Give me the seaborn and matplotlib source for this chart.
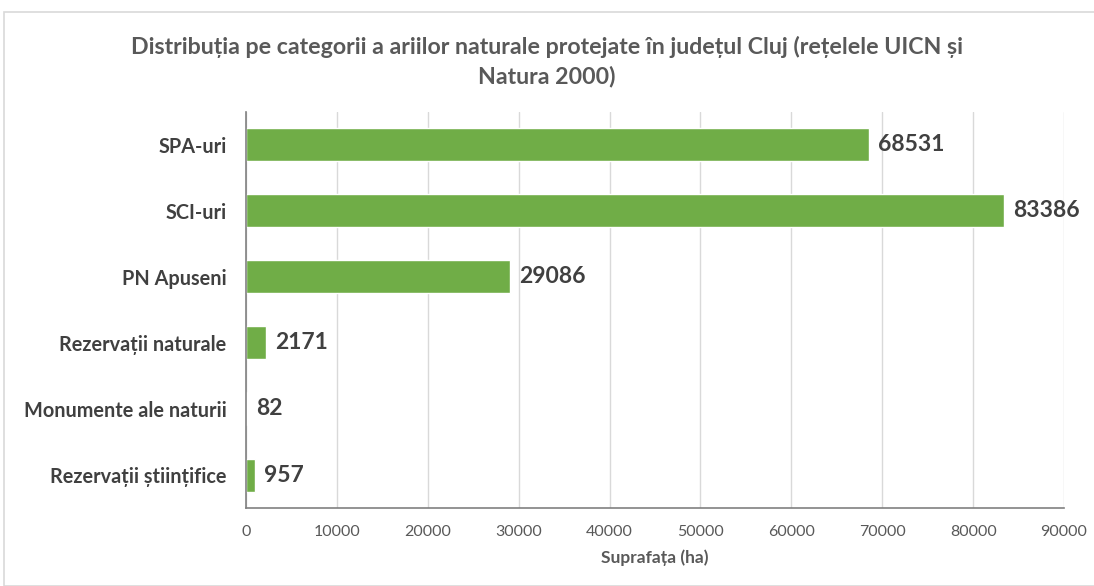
import pandas as pd
import matplotlib
matplotlib.use('Agg')
import matplotlib.pyplot as plt
import seaborn as sns
from matplotlib.patches import Rectangle

categorii = ['SPA-uri', 'SCI-uri', 'PN Apuseni', 'Rezervații naturale',
             'Monumente ale naturii', 'Rezervații științifice']
suprafata = [68531, 83386, 29086, 2171, 82, 957]
x_ticks = [0, 10000, 20000, 30000, 40000, 50000, 60000, 70000, 80000, 90000]

df = pd.DataFrame({'categorie': categorii, 'suprafata': suprafata})

sns.set_style('white')
plt.rcParams['font.family'] = ['Lato', 'DejaVu Sans']

fig = plt.figure(figsize=(10.94, 5.86), dpi=100)
ax = fig.add_axes([0.2249, 0.1331, 0.9726 - 0.2249, 0.8089 - 0.1331])

sns.barplot(data=df, y='categorie', x='suprafata', color='#70AD47',
            width=0.5, saturation=1, ax=ax, orient='h')

ax.set_xlim(0, 90000)
ax.set_xticks(x_ticks)
ax.set_xticklabels([str(t) for t in x_ticks], fontsize=11.5, color='#595959')
ax.tick_params(axis='x', length=0, pad=12)
ax.tick_params(axis='y', length=0, pad=14)
for lbl in ax.get_yticklabels():
    lbl.set_fontweight('bold')
    lbl.set_fontsize(14.3)
    lbl.set_color('#404040')

ax.grid(axis='x', color='#D9D9D9', linewidth=1)
ax.set_axisbelow(True)
for s in ['top', 'right']:
    ax.spines[s].set_visible(False)
ax.spines['left'].set_color('#808080')
ax.spines['bottom'].set_color('#808080')
ax.spines['left'].set_linewidth(1.2)
ax.spines['bottom'].set_linewidth(1.2)

ax.set_ylabel('')
ax.set_xlabel('Suprafața (ha)', fontsize=12.5, fontweight='bold', color='#595959', labelpad=8)

for i, v in enumerate(suprafata):
    ax.text(v + 1000, i, str(v), va='center', ha='left', fontsize=16.5,
            fontweight='bold', color='#404040')

fig.text(0.5, 0.895, 'Distribuția pe categorii a ariilor naturale protejate în județul Cluj (rețelele UICN și\nNatura 2000)',
         ha='center', va='center', fontsize=16.7, fontweight='bold', color='#595959', linespacing=1.45)

fig.patches.append(Rectangle((4 / 1094, 0), 1.2, 1 - 12 / 586, transform=fig.transFigure,
                             fill=False, edgecolor='#D9D9D9', linewidth=1.2))

fig.savefig('out.png', dpi=100)
